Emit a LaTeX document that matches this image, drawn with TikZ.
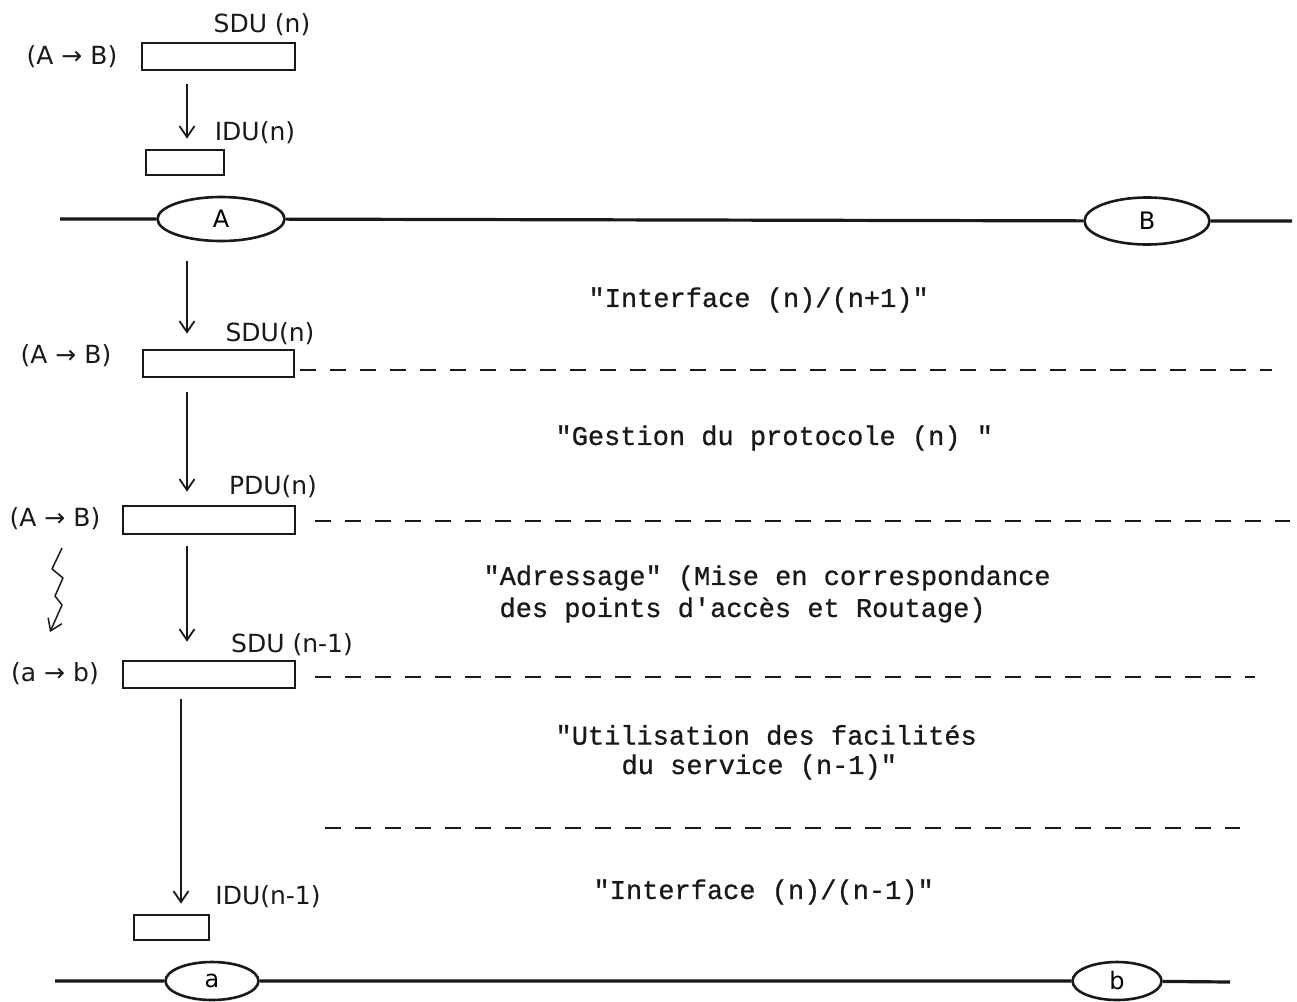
\documentclass[tikz,border=0pt]{standalone}
\usepackage{fontspec}
\usepackage{tikz}
\usetikzlibrary{arrows.meta,shapes.geometric}
\newfontfamily\mano{DejaVu Sans}
\newfontfamily\machine[FakeBold=0.8]{Liberation Mono}
\definecolor{Encre}{RGB}{25,25,25}

\begin{document}
\begin{tikzpicture}[x=1pt,y=-1pt,>={Straight Barb[length=11pt,width=15pt]},
  boite/.style={draw=Encre,line width=2.7pt,inner sep=0pt},
  station/.style={draw=Encre,ellipse,line width=2.6pt,inner sep=0pt,
    font=\mano\fontsize{24}{28}\selectfont},
  fleche/.style={->,draw=Encre,line width=1.8pt},
  ligne/.style={draw=Encre,line width=3.2pt},
  pointilles/.style={draw=Encre,line width=2.6pt,dash pattern=on 16pt off 14pt},
  manuscrit/.style={text=Encre,font=\mano\fontsize{25}{29}\selectfont},
  dactylo/.style={text=Encre,anchor=west,font=\machine\fontsize{27}{32}\selectfont}]
  \useasboundingbox (0,0) rectangle (1297,1001);

  % niveau (n+1)
  \node[boite,minimum width=153pt,minimum height=27pt] (sdu1) at (218.5,56.5) {};
  \node[manuscrit] (sdu1lab) at (262,25) {SDU (n)};
  \node[manuscrit] (ab1) at (72,57) {(A → B)};
  \node[boite,minimum width=78pt,minimum height=25pt] (idu1) at (185,162.5) {};
  \node[manuscrit] (idu1lab) at (255,133) {IDU(n)};

  \node[station,minimum width=127pt,minimum height=44pt] (A) at (221,219) {A};
  \node[station,minimum width=125pt,minimum height=47pt] (B) at (1147,221) {B};
  \coordinate (haut g) at (60,219);
  \coordinate (haut d) at (1292,221);
  \draw[ligne] (haut g) -- (A) -- (B) -- (haut d);

  % niveau (n)
  \node[boite,minimum width=151pt,minimum height=27pt] (sdu2) at (218.5,363.5) {};
  \node[manuscrit] (sdu2lab) at (270,334) {SDU(n)};
  \node[manuscrit] (ab2) at (66,356) {(A → B)};

  \node[boite,minimum width=172pt,minimum height=28pt] (pdu) at (209,520) {};
  \node[manuscrit] (pdulab) at (273,487) {PDU(n)};
  \node[manuscrit] (ab3) at (55,519) {(A → B)};

  \node[boite,minimum width=172pt,minimum height=27pt] (sdu3) at (209,674.5) {};
  \node[manuscrit] (sdu3lab) at (292,645) {SDU (n-1)};
  \node[manuscrit] (ab4) at (55,674) {(a → b)};

  % niveau (n-1)
  \node[boite,minimum width=75pt,minimum height=25pt] (idu2) at (171.5,927.5) {};
  \node[manuscrit] (idu2lab) at (268,897) {IDU(n-1)};

  \node[station,minimum width=93pt,minimum height=38pt] (a) at (212,981) {a};
  \node[station,minimum width=89pt,minimum height=38pt] (b) at (1117,981) {b};
  \coordinate (bas g) at (55,981);
  \coordinate (bas d) at (1230,982);
  \draw[ligne] (bas g) -- (a) -- (b) -- (bas d);

  % fleches
  \coordinate (col) at (187,0);
  \coordinate (col2) at (181,0);
  \draw[fleche,shorten <=13pt,shorten >=10pt] (sdu1.south -| col) -- (idu1.north -| col);
  \draw[fleche,shorten <=19pt,shorten >=15pt] (A.south -| col) -- (sdu2.north -| col);
  \draw[fleche,shorten <=14pt,shorten >=13pt] (sdu2.south -| col) -- (pdu.north -| col);
  \draw[fleche,shorten <=11pt,shorten >=18pt] (pdu.south -| col) -- (sdu3.north -| col);
  \draw[fleche,shorten <=10pt,shorten >=10pt] (sdu3.south -| col2) -- (idu2.north -| col2);

  % eclair
  \draw[fleche,line width=1.5pt,line join=round]
    (62,548) -- (52,569) -- (63,578) -- (55,596) -- (62,605) -- (50,632);

  % separations
  \draw[pointilles] (300,370) -- (1272,370);
  \draw[pointilles] (315,521) -- (1290,521);
  \draw[pointilles] (315,677) -- (1255,677);
  \draw[pointilles] (325,828) -- (1240,828);

  % textes
  \node[dactylo] (t1) at (585,300) {"Interface (n)/(n+1)"};
  \node[dactylo] (t2) at (552,438) {"Gestion du protocole (n) "};
  \node[dactylo] (t3) at (480,578) {"Adressage" (Mise en correspondance};
  \node[dactylo] (t4) at (496,610) {des points d'accès et Routage)};
  \node[dactylo] (t5) at (552,735) {"Utilisation des facilités};
  \node[dactylo] (t6) at (618,767) {du service (n-1)"};
  \node[dactylo] (t7) at (590,892) {"Interface (n)/(n-1)"};
\end{tikzpicture}
\end{document}
